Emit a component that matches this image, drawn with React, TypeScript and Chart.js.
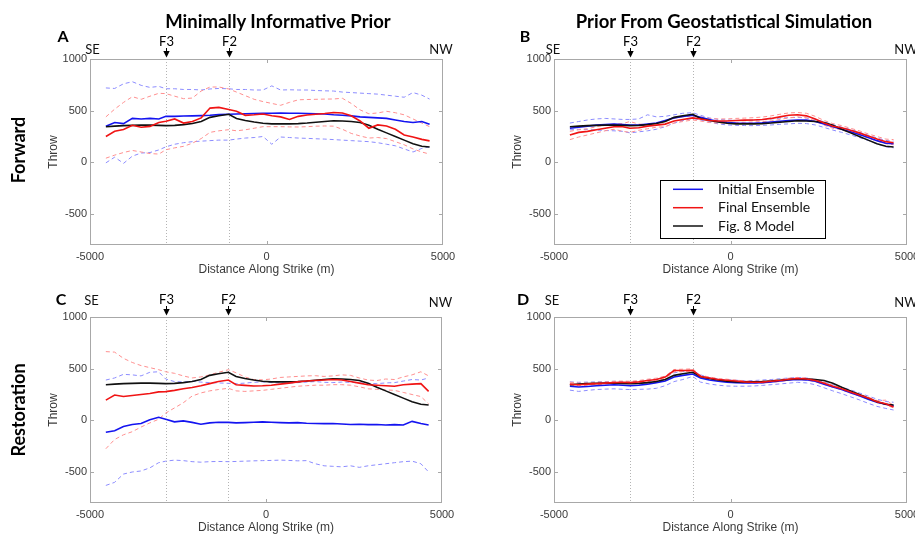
import React, { useEffect, useRef } from "react";
import { Chart, registerables } from "chart.js";
Chart.register(...registerables);
Chart.defaults.font.family = "'Liberation Sans', Arial, sans-serif";

// ---------- data ----------
const DIST = [-4550,-4300,-4050,-3800,-3550,-3300,-3050,-2850,-2600,-2350,-2100,-1850,-1600,-1350,-1070,-850,-600,-350,-100,150,400,650,900,1150,1400,1650,1900,2150,2400,2650,2900,3150,3400,3650,3900,4150,4400,4620];
const X_TICKS = [-5000, 0, 5000];
const Y_TICKS = [-500, 0, 500, 1000];
const FAULTS = ["F3", "F2"];
const FAULT_POS = [-2840, -1075];

const MODEL = [345,350,355,358,360,360,358,355,358,365,375,395,435,450,465,425,405,390,378,372,372,372,375,380,388,395,402,400,395,385,358,320,285,250,215,180,155,148];

// A: Forward, minimally informative prior
const A_BLUE = [350,385,375,425,420,425,420,445,445,448,450,452,455,462,465,468,470,472,475,475,478,475,475,472,470,468,460,455,450,440,435,430,425,410,395,385,395,368];
const A_BLUE_HI = [720,715,760,780,745,725,735,712,712,705,705,700,710,715,712,705,705,700,700,740,700,702,700,700,695,692,690,680,675,670,665,660,650,640,630,675,650,612];
const A_BLUE_LO = [-5,50,-10,60,90,95,120,150,175,190,200,205,210,215,215,225,235,240,250,175,245,240,235,232,228,225,220,215,210,205,200,190,175,160,130,100,135,150];
const A_RED = [250,300,318,358,340,348,385,397,420,380,395,430,525,532,512,495,455,460,468,450,440,415,445,458,465,472,482,478,450,400,330,362,352,320,265,245,222,208];
const A_RED_HI = [440,515,580,635,610,640,668,665,640,616,622,690,729,729,710,680,645,610,588,570,552,580,605,608,610,612,613,620,570,508,470,478,494,480,460,420,380,345];
const A_RED_LO = [40,70,95,115,100,85,80,122,140,155,185,230,290,305,316,305,315,330,345,345,345,343,342,345,350,352,350,320,280,255,235,240,230,200,170,130,100,80];

// B: Forward, geostatistical prior
const B_BLUE = [330,340,350,360,365,370,365,360,360,370,380,405,430,445,455,435,415,395,385,380,378,378,382,390,398,405,410,408,395,370,345,320,295,270,240,210,185,180];
const B_BLUE_HI = [380,395,410,420,425,420,415,415,420,460,440,445,460,475,480,455,430,415,410,405,405,408,412,420,428,432,435,430,418,392,365,340,318,292,262,235,212,205];
const B_BLUE_LO = [315,320,318,312,308,305,300,285,295,305,320,345,380,405,425,410,390,372,362,358,356,355,358,362,368,372,378,375,362,338,312,290,265,240,212,180,150,140];
const B_RED = [265,290,300,315,330,345,345,330,335,350,360,370,400,415,430,420,405,400,400,405,408,410,415,425,440,455,460,450,420,380,350,335,310,285,255,225,200,190];
const B_RED_HI = [300,315,325,345,360,370,375,395,370,365,375,395,425,440,450,440,425,420,420,425,428,432,438,450,465,478,482,475,445,405,375,355,330,305,275,250,225,220];
const B_RED_LO = [220,245,265,285,305,320,300,290,310,325,340,345,380,395,410,400,385,380,380,385,388,390,395,400,415,430,440,430,400,360,330,315,290,265,235,205,180,170];

// C: Restoration, minimally informative prior
const C_BLUE = [-115,-100,-60,-40,-30,5,30,10,-15,-5,-20,-38,-25,-18,-20,-25,-22,-18,-15,-18,-22,-25,-22,-28,-30,-32,-30,-35,-40,-38,-42,-40,-45,-42,-45,-10,-30,-45];
const C_BLUE_HI = [390,410,445,440,430,465,470,400,375,372,378,370,365,362,358,355,360,368,372,365,362,360,365,370,375,368,365,370,368,362,358,355,362,365,380,395,390,410];
const C_BLUE_LO = [-630,-600,-520,-500,-490,-460,-410,-395,-385,-390,-400,-405,-400,-398,-400,-398,-395,-392,-390,-388,-385,-388,-392,-390,-420,-440,-445,-450,-440,-455,-440,-430,-420,-410,-400,-395,-420,-500];
const C_RED = [195,245,230,240,250,260,275,278,290,305,318,335,355,375,390,345,338,332,335,340,350,360,372,380,385,390,395,390,375,360,345,340,335,330,345,350,355,280];
const C_RED_HI = [665,660,600,560,530,510,490,470,455,430,410,420,440,465,490,460,420,395,392,400,415,420,425,430,432,425,430,440,435,410,390,385,400,395,420,440,470,430];
const C_RED_LO = [-275,-185,-140,-110,-65,-25,10,70,120,170,235,265,285,298,310,285,280,285,290,300,310,320,330,335,340,340,345,345,340,325,305,300,295,290,270,250,230,160];

// D: Restoration, geostatistical prior
const D_BLUE = [330,322,328,335,340,345,340,335,340,350,365,380,420,435,448,410,390,378,370,365,362,362,365,372,380,390,395,392,378,350,322,298,268,238,205,175,155,140];
const D_BLUE_HI = [372,368,370,372,375,378,375,372,378,388,400,420,460,472,485,440,415,400,392,388,385,385,390,395,402,410,415,410,395,370,345,320,295,265,235,205,182,175];
const D_BLUE_LO = [292,280,290,298,302,305,300,298,300,302,310,335,375,395,425,370,352,340,332,330,330,332,338,345,352,360,368,362,345,315,285,258,228,198,165,135,115,100];
const D_RED = [350,345,350,355,360,365,368,365,372,385,395,418,482,482,485,425,410,395,388,380,372,368,370,378,385,398,405,400,385,358,330,305,275,245,215,180,160,130];
const D_RED_HI = [370,360,362,368,372,378,380,378,385,398,408,428,492,495,498,435,420,405,398,390,382,378,380,388,395,408,415,410,395,368,340,315,285,255,225,192,195,145];
const D_RED_LO = [340,335,340,345,350,355,358,355,362,375,385,405,470,472,475,415,400,385,378,370,362,358,360,368,375,388,395,390,375,348,320,295,265,235,205,170,150,120];

const LEGEND_LABELS = ["Initial Ensemble", "Final Ensemble", "Fig. 8 Model"];

// ---------- styles ----------
const BLUE = "#1414f0";
const RED = "#f01414";
const BLACK = "#111111";
const BLUE_D = "#8c8cff";
const RED_D = "#ff8f8f";
const LABEL_FONT = "Lato, 'Open Sans', sans-serif";

type Series = { blue: number[]; blueHi: number[]; blueLo: number[]; red: number[]; redHi: number[]; redLo: number[] };

type PanelCfg = {
  left: number; top: number; width: number; height: number;
  yAxisW: number; padRight: number; padTop: number;
  letter: string; letterDx: number; letterDy: number;
  seDx: number; seDy: number; nwDx: number; nwDy: number; fDy: number;
  legend: boolean; s: Series;
};

const toPts = (arr: number[]) => DIST.map((x, i) => ({ x, y: arr[i] }));

const decorPlugin = {
  id: "decor",
  beforeDatasetsDraw(chart: any) {
    const { ctx, chartArea: a, scales } = chart;
    ctx.save();
    ctx.strokeStyle = "#b4b4b4";
    ctx.lineWidth = 1;
    ctx.setLineDash([1, 2]);
    FAULT_POS.forEach((v) => {
      const px = Math.round(scales.x.getPixelForValue(v)) + 0.5;
      ctx.beginPath();
      ctx.moveTo(px, a.top);
      ctx.lineTo(px, a.bottom);
      ctx.stroke();
    });
    ctx.restore();
  },
  afterDatasetsDraw(chart: any) {
    const { ctx, chartArea: a, scales } = chart;
    const o = chart.options.plugins.decor as PanelCfg;
    ctx.save();
    // frame
    ctx.setLineDash([]);
    ctx.strokeStyle = "#a8a8a8";
    ctx.lineWidth = 1;
    ctx.strokeRect(a.left + 0.5, a.top + 0.5, a.right - a.left - 1, a.bottom - a.top - 1);
    // inward ticks
    X_TICKS.forEach((v) => {
      const px = Math.round(scales.x.getPixelForValue(v)) + 0.5;
      if (px < a.left + 2 || px > a.right - 2) return;
      ctx.beginPath();
      ctx.moveTo(px, a.bottom); ctx.lineTo(px, a.bottom - 4);
      ctx.moveTo(px, a.top); ctx.lineTo(px, a.top + 4);
      ctx.stroke();
    });
    Y_TICKS.forEach((v) => {
      const py = Math.round(scales.y.getPixelForValue(v)) + 0.5;
      if (py < a.top + 2 || py > a.bottom - 2) return;
      ctx.beginPath();
      ctx.moveTo(a.left, py); ctx.lineTo(a.left + 4, py);
      ctx.moveTo(a.right, py); ctx.lineTo(a.right - 4, py);
      ctx.stroke();
    });
    // fault markers
    ctx.fillStyle = "#000";
    ctx.strokeStyle = "#000";
    ctx.textAlign = "center";
    ctx.textBaseline = "middle";
    ctx.font = `13px ${LABEL_FONT}`;
    FAULT_POS.forEach((v, i) => {
      const px = Math.round(scales.x.getPixelForValue(v)) + 0.5;
      ctx.beginPath();
      ctx.moveTo(px, a.top - 11); ctx.lineTo(px, a.top - 7);
      ctx.stroke();
      ctx.beginPath();
      ctx.moveTo(px - 3.2, a.top - 8);
      ctx.lineTo(px + 3.2, a.top - 8);
      ctx.lineTo(px, a.top - 1.5);
      ctx.closePath();
      ctx.fill();
      ctx.fillText(FAULTS[i], px, a.top + o.fDy);
    });
    // SE / NW
    ctx.fillStyle = "#111";
    ctx.fillText("SE", a.left + o.seDx, a.top + o.seDy);
    ctx.fillText("NW", a.right + o.nwDx, a.top + o.nwDy);
    // letter
    ctx.font = `bold 16px ${LABEL_FONT}`;
    ctx.fillStyle = "#000";
    ctx.fillText(o.letter, a.left + o.letterDx, a.top + o.letterDy);
    // legend
    if (o.legend) {
      const bx = a.left + 106.5, by = a.top + 121.5, bw = 165, bh = 58;
      ctx.fillStyle = "#fff";
      ctx.fillRect(bx, by, bw, bh);
      ctx.strokeStyle = "#000";
      ctx.lineWidth = 1;
      ctx.strokeRect(bx, by, bw, bh);
      const cols = [BLUE, RED, BLACK];
      const rows = [130.3, 148.7, 167];
      ctx.font = `14px ${LABEL_FONT}`;
      ctx.textAlign = "left";
      LEGEND_LABELS.forEach((lab, i) => {
        const y = a.top + rows[i];
        ctx.strokeStyle = cols[i];
        ctx.lineWidth = 1.5;
        ctx.beginPath();
        ctx.moveTo(a.left + 119, y); ctx.lineTo(a.left + 149, y);
        ctx.stroke();
        ctx.fillStyle = "#111";
        ctx.fillText(lab, a.left + 164, y);
      });
    }
    ctx.restore();
  },
};

function Panel({ cfg }: { cfg: PanelCfg }) {
  const ref = useRef<HTMLCanvasElement>(null);
  useEffect(() => {
    const s = cfg.s;
    const solid = (data: number[], color: string) => ({
      data: toPts(data), borderColor: color, borderWidth: 1.6, pointRadius: 0, fill: false,
    });
    const dashed = (data: number[], color: string) => ({
      data: toPts(data), borderColor: color, borderWidth: 1, borderDash: [4, 3], pointRadius: 0, fill: false,
    });
    const chart = new Chart(ref.current!, {
      type: "line",
      data: {
        datasets: [
          { label: "Final Ensemble", ...solid(s.red, RED) },
          { label: "Fig. 8 Model", ...solid(MODEL, BLACK) },
          { label: "Initial Ensemble", ...solid(s.blue, BLUE) },
          { label: "Final hi", ...dashed(s.redHi, RED_D) },
          { label: "Final lo", ...dashed(s.redLo, RED_D) },
          { label: "Initial hi", ...dashed(s.blueHi, BLUE_D) },
          { label: "Initial lo", ...dashed(s.blueLo, BLUE_D) },
        ] as any,
      },
      options: {
        animation: false,
        responsive: false,
        events: [],
        layout: { padding: { left: 0, right: cfg.padRight, top: cfg.padTop, bottom: 0 } },
        elements: { line: { tension: 0 } },
        plugins: {
          legend: { display: false },
          tooltip: { enabled: false },
          decor: cfg,
        } as any,
        scales: {
          x: {
            type: "linear",
            min: -5000,
            max: 5000,
            afterBuildTicks: (sc: any) => { sc.ticks = X_TICKS.map((v) => ({ value: v })); },
            afterFit: (sc: any) => { sc.height = 33; sc.paddingLeft = 0; sc.paddingRight = 0; },
            grid: { display: false, drawTicks: false },
            border: { display: false },
            ticks: { padding: 5, color: "#3a3a3a", font: { size: 11 }, maxRotation: 0, autoSkip: false, callback: (v: any) => String(v) },
            title: { display: true, text: "Distance Along Strike (m)", color: "#3a3a3a", font: { size: 12 }, padding: { top: 0, bottom: 1.2 } },
          },
          y: {
            type: "linear",
            min: -800,
            max: 1000,
            afterBuildTicks: (sc: any) => { sc.ticks = Y_TICKS.map((v) => ({ value: v })); },
            afterFit: (sc: any) => { sc.width = cfg.yAxisW; sc.paddingTop = 0; sc.paddingBottom = 0; },
            grid: { display: false, drawTicks: false },
            border: { display: false },
            ticks: { padding: 3, color: "#3a3a3a", font: { size: 11 }, autoSkip: false, callback: (v: any) => String(v) },
            title: { display: true, text: "Throw", color: "#3a3a3a", font: { size: 12 }, padding: { top: cfg.yAxisW - 36 - 7.2, bottom: 0 } },
          },
        },
      } as any,
      plugins: [decorPlugin as any],
    });
    return () => chart.destroy();
  }, [cfg]);
  return (
    <canvas
      ref={ref}
      width={cfg.width}
      height={cfg.height}
      style={{ position: "absolute", left: cfg.left, top: cfg.top, width: cfg.width, height: cfg.height }}
    />
  );
}

const PANELS: PanelCfg[] = [
  { left: 0, top: 25, width: 457, height: 253, yAxisW: 90, padRight: 14, padTop: 34,
    letter: "A", letterDx: -27, letterDy: -22, seDx: 2.5, seDy: -9.5, nwDx: -2, nwDy: -9.5, fDy: -17.5, legend: false,
    s: { blue: A_BLUE, blueHi: A_BLUE_HI, blueLo: A_BLUE_LO, red: A_RED, redHi: A_RED_HI, redLo: A_RED_LO } },
  { left: 457, top: 25, width: 458, height: 253, yAxisW: 97, padRight: 8, padTop: 34,
    letter: "B", letterDx: -29, letterDy: -22, seDx: -1, seDy: -9.5, nwDx: -1, nwDy: -9.5, fDy: -17.5, legend: true,
    s: { blue: B_BLUE, blueHi: B_BLUE_HI, blueLo: B_BLUE_LO, red: B_RED, redHi: B_RED_HI, redLo: B_RED_LO } },
  { left: 0, top: 283, width: 457, height: 253, yAxisW: 90, padRight: 15, padTop: 34,
    letter: "C", letterDx: -29, letterDy: -17, seDx: 1.5, seDy: -16, nwDx: -1.5, nwDy: -14.5, fDy: -17.5, legend: false,
    s: { blue: C_BLUE, blueHi: C_BLUE_HI, blueLo: C_BLUE_LO, red: C_RED, redHi: C_RED_HI, redLo: C_RED_LO } },
  { left: 457, top: 283, width: 458, height: 253, yAxisW: 97, padRight: 8, padTop: 34,
    letter: "D", letterDx: -31, letterDy: -17, seDx: -2, seDy: -16, nwDx: -1, nwDy: -14, fDy: -17.5, legend: false,
    s: { blue: D_BLUE, blueHi: D_BLUE_HI, blueLo: D_BLUE_LO, red: D_RED, redHi: D_RED_HI, redLo: D_RED_LO } },
];

const centered = (x: number, y: number, extra: React.CSSProperties = {}): React.CSSProperties => ({
  position: "absolute", left: x, top: y, transform: "translate(-50%, -50%)", whiteSpace: "nowrap",
  fontFamily: LABEL_FONT, fontWeight: 700, color: "#000", lineHeight: 1, ...extra,
});

export default function App() {
  return (
    <div style={{ position: "absolute", left: 0, top: 0, width: 915, height: 536, overflow: "hidden", background: "#fff" }}>
      {PANELS.map((p, i) => <Panel key={i} cfg={p} />)}
      <div style={centered(278, 21, { fontSize: 18.5 })}>Minimally Informative Prior</div>
      <div style={centered(724, 21, { fontSize: 18.5 })}>Prior From Geostatistical Simulation</div>
      <div style={centered(18, 150, { fontSize: 18, transform: "translate(-50%, -50%) rotate(-90deg)" })}>Forward</div>
      <div style={centered(18, 410, { fontSize: 18, transform: "translate(-50%, -50%) rotate(-90deg)" })}>Restoration</div>
    </div>
  );
}
